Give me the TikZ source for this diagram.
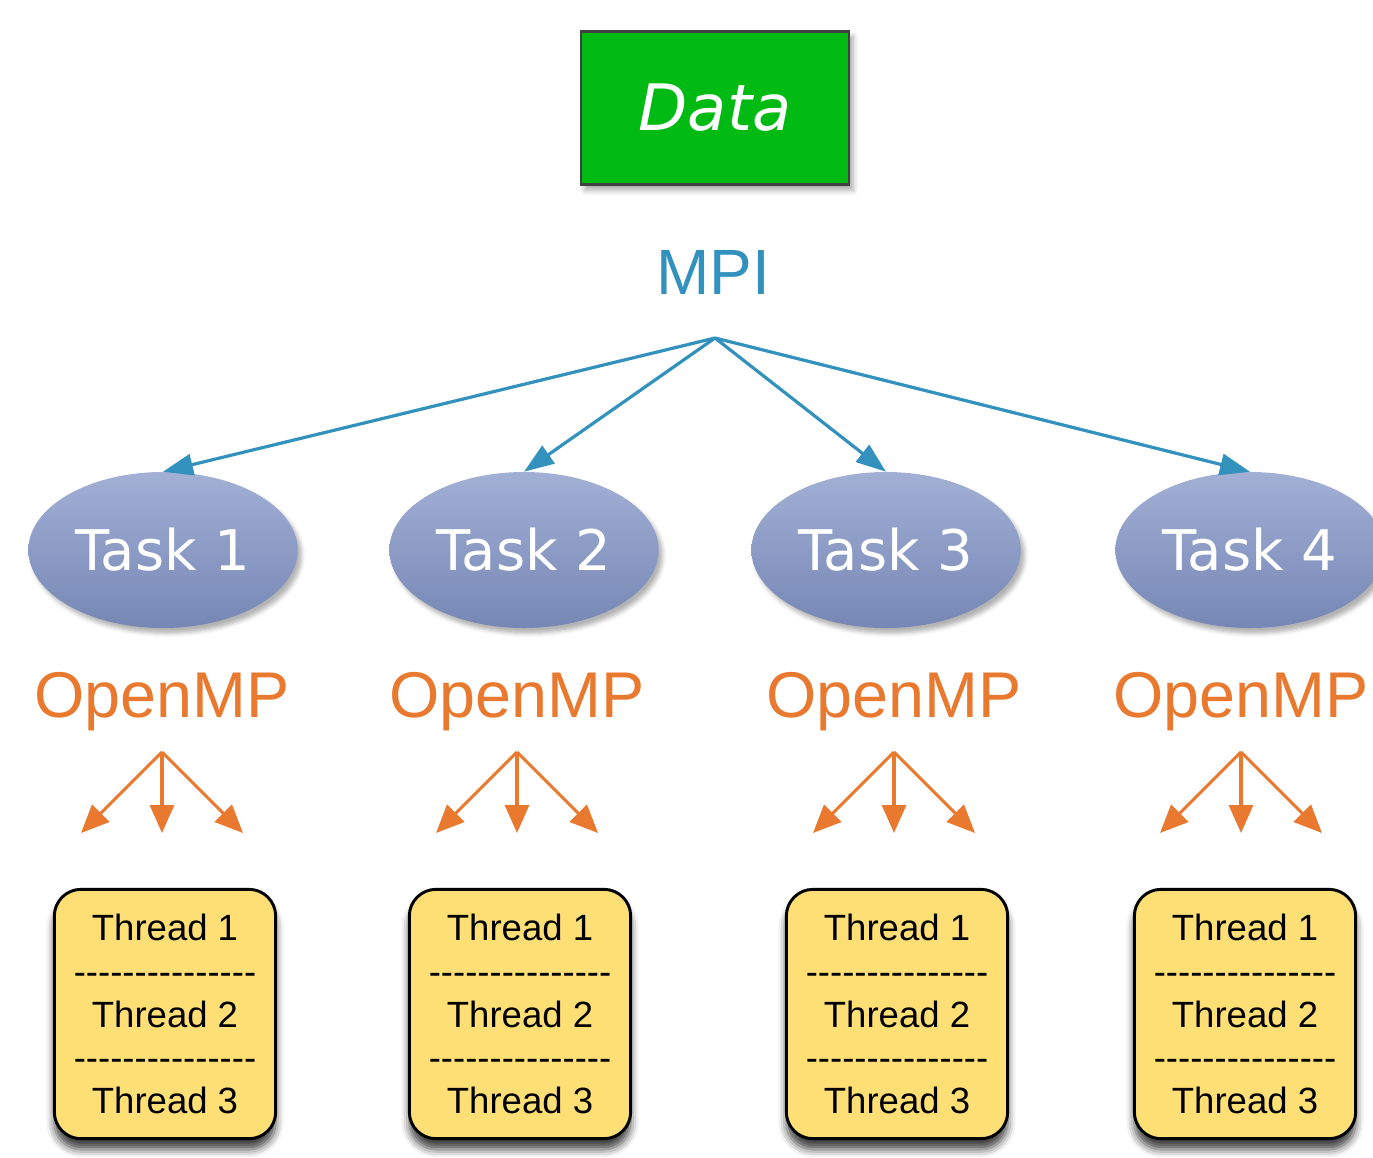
\documentclass[tikz,border=0pt]{standalone}
\usepackage{fontspec}
\setmainfont{Liberation Sans}
\newfontfamily\verd{DejaVu Sans}
\usetikzlibrary{shapes.geometric,arrows.meta,shadows.blur}

\definecolor{datagreen}{RGB}{0,186,20}
\definecolor{framegray}{RGB}{64,64,64}
\definecolor{mpiblue}{RGB}{51,145,190}
\definecolor{tasktop}{RGB}{162,176,213}
\definecolor{taskbot}{RGB}{118,135,181}
\definecolor{omporange}{RGB}{232,121,47}
\definecolor{thryellow}{RGB}{254,223,118}

% one hyphen per box, so the row is not merged into dashes
\newcommand\hyph{\mbox{-}}
\newcommand\dashrow{\hyph\hyph\hyph\hyph\hyph\hyph\hyph\hyph\hyph\hyph\hyph\hyph\hyph\hyph\hyph}

\begin{document}
\begin{tikzpicture}[x=0.75pt,y=-0.75pt,
  databox/.style={draw=framegray, line width=2.2pt, fill=datagreen,
    minimum width=201pt, minimum height=115pt, inner sep=0pt,
    text=white, font=\verd\itshape\fontsize{48}{48}\selectfont,
    blur shadow={shadow xshift=3pt, shadow yshift=-4pt, shadow blur radius=4pt, shadow opacity=35}},
  mpilabel/.style={text=mpiblue, anchor=base, inner sep=0pt, font=\fontsize{48}{48}\selectfont},
  task/.style={ellipse, minimum width=202pt, minimum height=117pt, inner sep=0pt,
    top color=tasktop, bottom color=taskbot, text=white,
    font=\verd\fontsize{42}{42}\selectfont,
    blur shadow={shadow xshift=3pt, shadow yshift=-4pt, shadow blur radius=3pt, shadow opacity=30}},
  mpiarrow/.style={draw=mpiblue, line width=2.4pt,
    -{Triangle[length=22.5pt,width=16pt]}},
  omplabel/.style={text=omporange, anchor=base, inner sep=0pt, font=\fontsize{48.5}{48.5}\selectfont},
  omparrow/.style={draw=omporange, line width=2.3pt,
    -{Triangle[length=21pt,width=18pt]}},
  threadbox/.style={draw=black, line width=2.2pt, fill=thryellow,
    rounded corners=20pt, minimum width=166pt, minimum height=187pt,
    align=center, inner sep=0pt, font=\fontsize{27.4}{32.3}\selectfont,
    blur shadow={shadow xshift=0pt, shadow yshift=-8pt, shadow blur radius=6pt, shadow opacity=75}}]

\useasboundingbox (0,0) rectangle (1373,1157);

% data block and the MPI distribution point
\node[databox] (data) at (715,108) {Data};
\node[mpilabel] (mpi) at (713,294) {MPI};
\coordinate (fork) at (715,338);

% MPI tasks
\node[task] (t1) at (163,550) {Task 1};
\node[task] (t2) at (524,550) {Task 2};
\node[task] (t3) at (886,550) {Task 3};
\node[task] (t4) at (1250,550) {Task 4};

\foreach \t in {t1,t2,t3,t4}
  \draw[mpiarrow] (fork) -- (\t.north);

% OpenMP labels and thread fan-out per task
\foreach \i/\cx/\bx in {1/162/165, 2/517/520, 3/894/897, 4/1241/1245}{
  \node[omplabel] (omp\i) at (\cx,717) {OpenMP};
  \coordinate (apex\i) at (\cx,752);
  \coordinate (left\i) at (\cx-81,833);
  \coordinate (mid\i) at (\cx,833);
  \coordinate (right\i) at (\cx+81,833);
  \draw[omparrow] (apex\i) -- (left\i);
  \draw[omparrow] (apex\i) -- (mid\i);
  \draw[omparrow] (apex\i) -- (right\i);
  \node[threadbox] (threads\i) at (\bx,1014)
    {Thread 1\\\dashrow\\Thread 2\\\dashrow\\Thread 3};
}
\end{tikzpicture}
\end{document}
